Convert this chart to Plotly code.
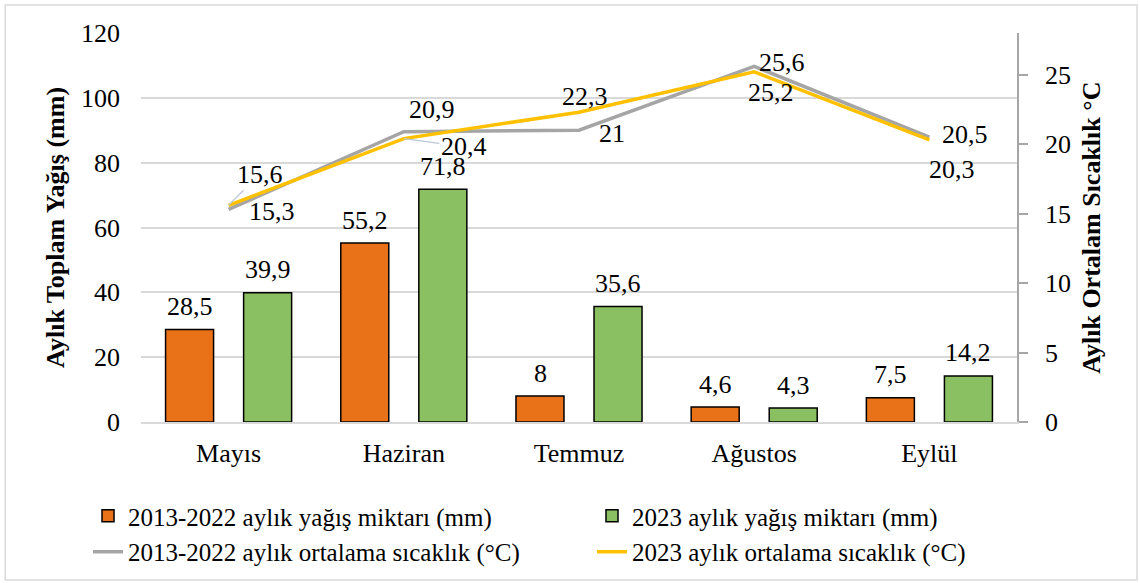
import plotly.graph_objects as go

months = ["Mayıs", "Haziran", "Temmuz", "Ağustos", "Eylül"]
rain_2013_2022 = [28.5, 55.2, 8.0, 4.6, 7.5]
rain_2023 = [39.9, 71.8, 35.6, 4.3, 14.2]
temp_2013_2022 = [15.3, 20.9, 21.0, 25.6, 20.5]
temp_2023 = [15.6, 20.4, 22.3, 25.2, 20.3]

names = ["2013-2022 aylık yağış miktarı (mm)", "2023 aylık yağış miktarı (mm)",
         "2013-2022 aylık ortalama sıcaklık (°C)", "2023 aylık ortalama sıcaklık (°C)"]

ORANGE = "#E97118"
GREEN = "#8BC062"
GRAY = "#A5A5A5"
YELLOW = "#FFC000"
FONT = "Liberation Serif"
FS = 26

def fmt(v):
    s = f"{v:.1f}".replace(".", ",")
    if s.endswith(",0"):
        s = s[:-2]
    return s

fig = go.Figure()
fig.add_trace(go.Bar(x=months, y=rain_2013_2022, name=names[0], legend="legend",
                     marker=dict(color=ORANGE, line=dict(color="black", width=1.5))))
fig.add_trace(go.Bar(x=months, y=rain_2023, name=names[1], legend="legend2",
                     marker=dict(color=GREEN, line=dict(color="black", width=1.5))))
fig.add_trace(go.Scatter(x=months, y=temp_2013_2022, name=names[2], legend="legend3", mode="lines",
                         line=dict(color=GRAY, width=3.5), yaxis="y2"))
fig.add_trace(go.Scatter(x=months, y=temp_2023, name=names[3], legend="legend4", mode="lines",
                         line=dict(color=YELLOW, width=3.5), yaxis="y2"))

ann = []
for m, v in zip(months, rain_2013_2022):
    ann.append(dict(x=m, y=v, xref="x", yref="y", text=fmt(v), showarrow=False, xshift=-39, yshift=23))
for m, v in zip(months, rain_2023):
    ann.append(dict(x=m, y=v, xref="x", yref="y", text=fmt(v), showarrow=False, xshift=39, yshift=23))

# line label offsets (pixel shifts)
gray_shift = [(43, -2), (28, 22), (33, -3), (28, 4), (36, 3)]
yellow_shift = [None, None, (6, 16), (17, -21), (23, -30)]
for m, v, (dx, dy) in zip(months, temp_2013_2022, gray_shift):
    ann.append(dict(x=m, y=v, xref="x", yref="y2", text=fmt(v), showarrow=False, xshift=dx, yshift=dy))
for i, (m, v) in enumerate(zip(months, temp_2023)):
    if yellow_shift[i] is None:
        continue
    dx, dy = yellow_shift[i]
    ann.append(dict(x=m, y=v, xref="x", yref="y2", text=fmt(v), showarrow=False, xshift=dx, yshift=dy))
# leader-line labels
ann.append(dict(x=months[0], y=temp_2023[0], xref="x", yref="y2", text=fmt(temp_2023[0]), showarrow=True,
                arrowhead=0, arrowwidth=1.2, arrowcolor="#BCC8D8", ax=31, ay=-31))
ann.append(dict(x=months[1], y=temp_2023[1], xref="x", yref="y2", text=fmt(temp_2023[1]), showarrow=True,
                arrowhead=0, arrowwidth=1.2, arrowcolor="#BCC8D8", ax=60, ay=8))

ann.append(dict(x=-0.097, y=0.499, xref="paper", yref="paper", xanchor="center", yanchor="middle",
                text="Aylık Toplam Yağış (mm)", textangle=-90,
                showarrow=False, font=dict(family=FONT, size=FS, color="black", weight="bold")))
ann.append(dict(x=1.0856, y=0.499, xref="paper", yref="paper", xanchor="center", yanchor="middle",
                text="Aylık Ortalam Sıcaklık °C", textangle=-90,
                showarrow=False, font=dict(family=FONT, size=FS, color="black", weight="bold")))

def leg(x, y):
    return dict(orientation="v", xref="container", yref="paper", x=x, y=y, xanchor="left", yanchor="top",
                font=dict(family=FONT, size=25), bgcolor="rgba(0,0,0,0)")

fig.update_layout(
    width=1140, height=583,
    margin=dict(l=141, r=123, t=33, b=161, autoexpand=False),
    paper_bgcolor="white", plot_bgcolor="white",
    font=dict(family=FONT, size=FS, color="black"),
    barmode="group", bargap=0.109, bargroupgap=0.385,
    annotations=ann,
    showlegend=True,
    legend=leg(0.0772, -0.1826),
    legend2=leg(0.5193, -0.1826),
    legend3=leg(0.0772, -0.275),
    legend4=leg(0.5193, -0.275),
    xaxis=dict(showgrid=False, showline=True, linecolor="#D9D9D9", linewidth=1.5, ticks="", ticklabelstandoff=7,
               tickfont=dict(size=FS), automargin=False),
    yaxis=dict(range=[0, 120], dtick=20, showgrid=True, gridcolor="#D9D9D9", gridwidth=1.5, zeroline=False,
               showline=False, ticklabelstandoff=20, tickfont=dict(size=FS), automargin=False),
    yaxis2=dict(range=[0, 28], dtick=5, overlaying="y", side="right", showgrid=False, zeroline=False,
                showline=True, linecolor="#A6A6A6", linewidth=1.5, ticks="outside", ticklen=9, tickcolor="#A6A6A6",
                tickwidth=1.5, ticklabelstandoff=12, tickfont=dict(size=FS), automargin=False),
    shapes=[dict(type="rect", xref="paper", yref="paper", x0=-0.155, x1=1.137, y0=-0.406, y1=1.072,
                 line=dict(color="#D9D9D9", width=1.5), fillcolor="rgba(0,0,0,0)", layer="below")],
)

fig.write_html("out.html", config={"displayModeBar": False},
               post_script="document.body.style.margin='0';document.body.style.padding='0';")
